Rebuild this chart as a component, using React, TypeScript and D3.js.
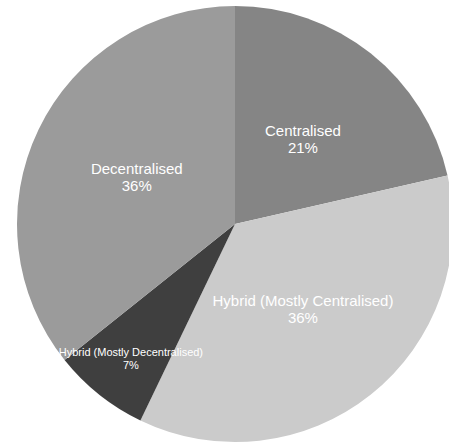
import React from "react";
import * as d3 from "d3";

const categories = [
  "Centralised",
  "Hybrid (Mostly Centralised)",
  "Hybrid (Mostly Decentralised)",
  "Decentralised",
];
const counts = [3, 5, 1, 5];
const colors = ["#858585", "#cbcbcb", "#3f3f3f", "#9b9b9b"];

const W = 449;
const H = 447;
const cx = 235;
const cy = 224;
const R = 218;

export default function App() {
  const total = d3.sum(counts);
  const pie = d3
    .pie<number>()
    .sort(null)
    .value((d) => d)
    .startAngle(0)
    .endAngle(2 * Math.PI);
  const arcs = pie(counts);
  const arcGen = d3.arc<d3.PieArcDatum<number>>().innerRadius(0).outerRadius(R);

  return (
    <svg
      width={W}
      height={H}
      style={{ position: "absolute", left: 0, top: 0 }}
      fontFamily="'Liberation Sans', Arial, Helvetica, sans-serif"
    >
      <g transform={`translate(${cx},${cy})`}>
        {arcs.map((a, i) => (
          <path key={i} d={arcGen(a) || ""} fill={colors[i]} />
        ))}
        {arcs.map((a, i) => {
          const frac = a.data / total;
          const small = frac < 0.1;
          const fs = small ? 11 : 15;
          const lr = small ? R * 0.766 : R * 0.5;
          const labelArc = d3
            .arc<d3.PieArcDatum<number>>()
            .innerRadius(lr)
            .outerRadius(lr);
          const [x, y] = labelArc.centroid(a);
          const pct = d3.format(".0%")(frac);
          const y1 = small ? y + 0.1 * fs : y - 0.2 * fs;
          const lh = small ? 1.18 * fs : 1.14 * fs;
          return (
            <text
              key={"t" + i}
              x={x}
              y={y1}
              fill="#ffffff"
              fontSize={fs}
              textAnchor="middle"
            >
              <tspan x={x} y={y1}>
                {categories[i]}
              </tspan>
              <tspan x={x} y={y1 + lh}>
                {pct}
              </tspan>
            </text>
          );
        })}
      </g>
    </svg>
  );
}
